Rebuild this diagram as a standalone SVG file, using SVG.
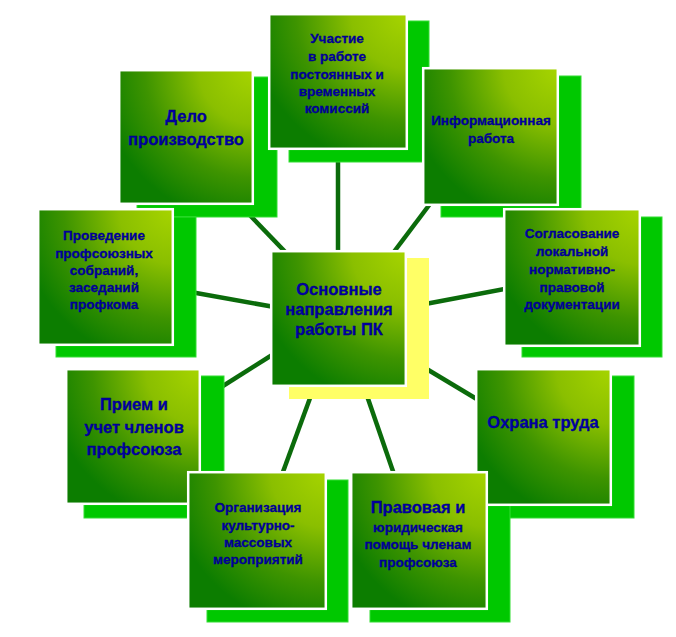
<svg xmlns="http://www.w3.org/2000/svg" width="676" height="637" viewBox="0 0 676 637">
<defs>
<radialGradient id="g" cx="1" cy="0" r="1.15" fx="1" fy="0">
<stop offset="0" stop-color="#A6D400"/>
<stop offset="0.35" stop-color="#8ABF00"/>
<stop offset="0.7" stop-color="#3E9400"/>
<stop offset="1" stop-color="#0C7D00"/>
</radialGradient>
<style>
.sh{fill:#00C800;stroke:#33DD33;stroke-width:1}
.shy{fill:#FFFF66}
.mn{fill:url(#g);stroke:#FFFFFF;stroke-width:2.5}
.ln{stroke:#0B6B0B;stroke-width:4.5;fill:none}
text{font-family:"Liberation Sans",Arial,sans-serif;font-weight:bold;fill:#0000A8;stroke:#000070;stroke-width:0.3;text-anchor:middle}
.b{font-size:16.5px}
.s{font-size:13.5px}
</style>
</defs>
<rect width="676" height="637" fill="#FFFFFF"/>
<g id="connectors">
<line class="ln" x1="338" y1="120" x2="338" y2="300"/>
<line class="ln" x1="242" y1="207" x2="292" y2="259"/>
<line class="ln" x1="436" y1="196" x2="390" y2="257"/>
<line class="ln" x1="185" y1="291" x2="280" y2="308"/>
<line class="ln" x1="420" y1="305" x2="510" y2="288"/>
<line class="ln" x1="215" y1="391" x2="280" y2="350"/>
<line class="ln" x1="420" y1="365" x2="485" y2="404"/>
<line class="ln" x1="313" y1="390" x2="280" y2="480"/>
<line class="ln" x1="365" y1="390" x2="396" y2="480"/>
</g>
<g id="shadows">
<rect class="sh" x="289" y="21" width="140" height="141"/>
<rect class="sh" x="137" y="77" width="140" height="140"/>
<rect class="sh" x="441" y="76" width="140" height="141"/>
<rect class="sh" x="56" y="217" width="140" height="140"/>
<rect class="sh" x="522" y="217" width="140" height="140"/>
<rect class="shy" x="289" y="258" width="140" height="141"/>
<rect class="sh" x="84" y="376" width="140" height="142"/>
<rect class="sh" x="494" y="376" width="140" height="142"/>
<rect class="sh" x="207" y="480" width="141" height="142"/>
<rect class="sh" x="370" y="480" width="140" height="142"/>
</g>
<g id="n-uchastie">
<rect class="mn" x="269.2" y="14.2" width="137.6" height="134.6"/>
<text class="s"><tspan x="337" y="43">Участие</tspan><tspan x="337" y="61">в работе</tspan><tspan x="337" y="79">постоянных и</tspan><tspan x="337" y="96">временных</tspan><tspan x="337" y="113">комиссий</tspan></text>
</g>
<g id="n-delo">
<rect class="mn" x="119.2" y="70.2" width="133.6" height="133.6"/>
<text class="b"><tspan x="186" y="122">Дело</tspan><tspan x="186" y="145">производство</tspan></text>
</g>
<g id="n-inform">
<rect class="mn" x="423.2" y="68.2" width="134.6" height="136.6"/>
<text class="s"><tspan x="491" y="125">Информационная</tspan><tspan x="491" y="143">работа</tspan></text>
</g>
<g id="n-provedenie">
<rect class="mn" x="38.2" y="209.2" width="134.6" height="135.6"/>
<text class="s"><tspan x="104" y="240">Проведение</tspan><tspan x="104" y="258">профсоюзных</tspan><tspan x="104" y="275">собраний,</tspan><tspan x="104" y="292">заседаний</tspan><tspan x="104" y="309">профкома</tspan></text>
</g>
<g id="n-soglasovanie">
<rect class="mn" x="504.2" y="209.2" width="135.6" height="136.6"/>
<text class="s"><tspan x="572" y="238">Согласование</tspan><tspan x="572" y="256">локальной</tspan><tspan x="572" y="274">нормативно-</tspan><tspan x="572" y="292">правовой</tspan><tspan x="572" y="309">документации</tspan></text>
</g>
<g id="n-center">
<rect class="mn" x="271.2" y="251.2" width="134.6" height="134.6"/>
<text class="b"><tspan x="339" y="295">Основные</tspan><tspan x="339" y="315">направления</tspan><tspan x="339" y="335">работы ПК</tspan></text>
</g>
<g id="n-priem">
<rect class="mn" x="66.2" y="369.2" width="133.6" height="134.6"/>
<text class="b"><tspan x="134" y="410">Прием и</tspan><tspan x="134" y="433">учет членов</tspan><tspan x="134" y="455">профсоюза</tspan></text>
</g>
<g id="n-ohrana">
<rect class="mn" x="476.2" y="369.2" width="134.6" height="135.6"/>
<text class="b"><tspan x="543" y="428">Охрана труда</tspan></text>
</g>
<g id="n-organizacia">
<rect class="mn" x="188.2" y="472.2" width="137.6" height="136.6"/>
<text class="s"><tspan x="258" y="512">Организация</tspan><tspan x="258" y="530">культурно-</tspan><tspan x="258" y="547">массовых</tspan><tspan x="258" y="564">мероприятий</tspan></text>
</g>
<g id="n-pravovaya">
<rect class="mn" x="351.2" y="472.2" width="135.6" height="136.6"/>
<text><tspan class="b" x="418" y="513">Правовая и</tspan><tspan class="s" x="418" y="532">юридическая</tspan><tspan class="s" x="418" y="549">помощь членам</tspan><tspan class="s" x="418" y="567">профсоюза</tspan></text>
</g>
</svg>
